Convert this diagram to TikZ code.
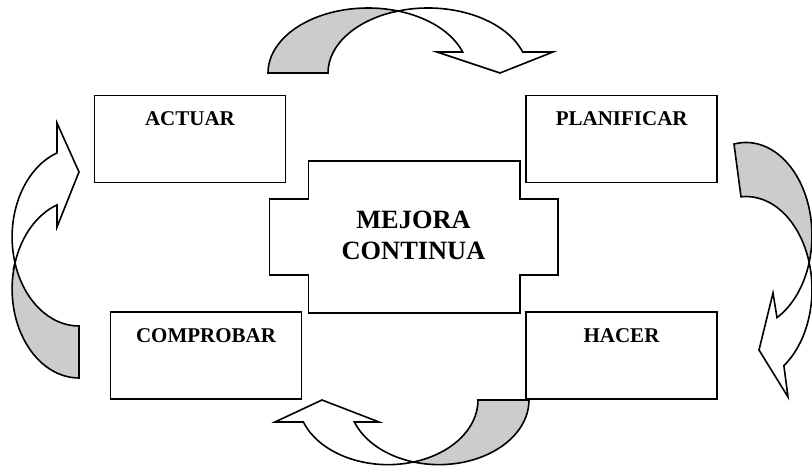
\documentclass[tikz,border=0pt]{standalone}
\usepackage{fontspec}
\setmainfont{Liberation Serif}
\definecolor{bandgray}{RGB}{204,204,204}
\begin{document}
\begin{tikzpicture}[x=1pt,y=1pt,
  outline/.style={draw=black, line width=1.6pt, line join=miter},
  stagebox/.style={outline, fill=white, rectangle, minimum width=191pt,
    minimum height=87pt, inner sep=0pt},
  stagelabel/.style={font=\bfseries\fontsize{21}{25}\selectfont,
    anchor=base, inner sep=0pt},
  corelabel/.style={font=\bfseries\fontsize{26.4}{31}\selectfont,
    anchor=base, inner sep=0pt},
  band/.style={outline, fill=bandgray},
  front/.style={outline, fill=white},
]
\useasboundingbox (0,0) rectangle (812,468);
\clip (0,0) rectangle (812,468);

% the four stages of the cycle
\node[stagebox] (actuar) at (190,329) {};
\node[stagelabel] (lactuar) at ([yshift=-31pt]actuar.north) {ACTUAR};
\node[stagebox] (planificar) at (621.75,329) {};
\node[stagelabel] (lplanificar) at ([yshift=-31pt]planificar.north) {PLANIFICAR};
\node[stagebox] (comprobar) at (206,112.5) {};
\node[stagelabel] (lcomprobar) at ([yshift=-31.5pt]comprobar.north) {COMPROBAR};
\node[stagebox] (hacer) at (621.5,112.5) {};
\node[stagelabel] (lhacer) at ([yshift=-31.5pt]hacer.north) {HACER};

% central cross-shaped plate
\draw[outline, fill=white]
  (308.3,307) -- (520,307) -- (520,269) -- (557.7,269) -- (557.7,193)
  -- (520,193) -- (520,154.7) -- (308.3,154.7) -- (308.3,193)
  -- (269.3,193) -- (269.3,269) -- (308.3,269) -- cycle;
\node[corelabel] (mejora) at (413.5,239) {MEJORA};
\node[corelabel] (continua) at (413.5,208) {CONTINUA};

% top curved arrow: ACTUAR -> PLANIFICAR
\draw[band] (268,395)
  arc[start angle=180, end angle=72.54, x radius=100pt, y radius=65pt]
  arc[start angle=107.46, end angle=180, x radius=100pt, y radius=65pt] -- cycle;
\draw[front] (398,457)
  arc[start angle=107.46, end angle=18.8, x radius=100pt, y radius=65pt]
  -- (553,416) -- (500,395) -- (437,416) -- (462.67,415.95)
  arc[start angle=18.8, end angle=72.54, x radius=100pt, y radius=65pt] -- cycle;

% right curved arrow: PLANIFICAR -> HACER
\draw[band] (734,323.95)
  arc[start angle=100.47, end angle=-16.88, x radius=66pt, y radius=93pt]
  arc[start angle=16.88, end angle=94.35, x radius=66pt, y radius=93pt] -- cycle;
\draw[front] (809.16,205.5)
  arc[start angle=16.88, end angle=-55, x radius=66pt, y radius=93pt]
  -- (788,71) -- (759,118) -- (773,175) -- (777,150.4)
  arc[start angle=-61.99, end angle=-16.88, x radius=66pt, y radius=93pt] -- cycle;

% bottom curved arrow: HACER -> COMPROBAR
\draw[band] (529,68)
  arc[start angle=0, end angle=-106.46, x radius=90pt, y radius=64.65pt]
  arc[start angle=-73.54, end angle=0, x radius=90pt, y radius=64.65pt] -- cycle;
\draw[front] (413.5,6)
  arc[start angle=-73.54, end angle=-160.1, x radius=90pt, y radius=64.65pt]
  -- (275,46) -- (322,68) -- (379,46) -- (354.37,46)
  arc[start angle=-160.1, end angle=-106.46, x radius=90pt, y radius=64.65pt] -- cycle;

% left curved arrow: COMPROBAR -> ACTUAR
\draw[band] (79,90)
  arc[start angle=270, end angle=163.02, x radius=66.9pt, y radius=89pt]
  arc[start angle=196.98, end angle=270, x radius=66.9pt, y radius=89pt] -- cycle;
\draw[front] (15.02,205)
  arc[start angle=196.98, end angle=109.2, x radius=66.9pt, y radius=89pt]
  -- (57,345) -- (79,296) -- (57,241) -- (57,263.05)
  arc[start angle=109.2, end angle=163.02, x radius=66.9pt, y radius=89pt] -- cycle;
\end{tikzpicture}
\end{document}
